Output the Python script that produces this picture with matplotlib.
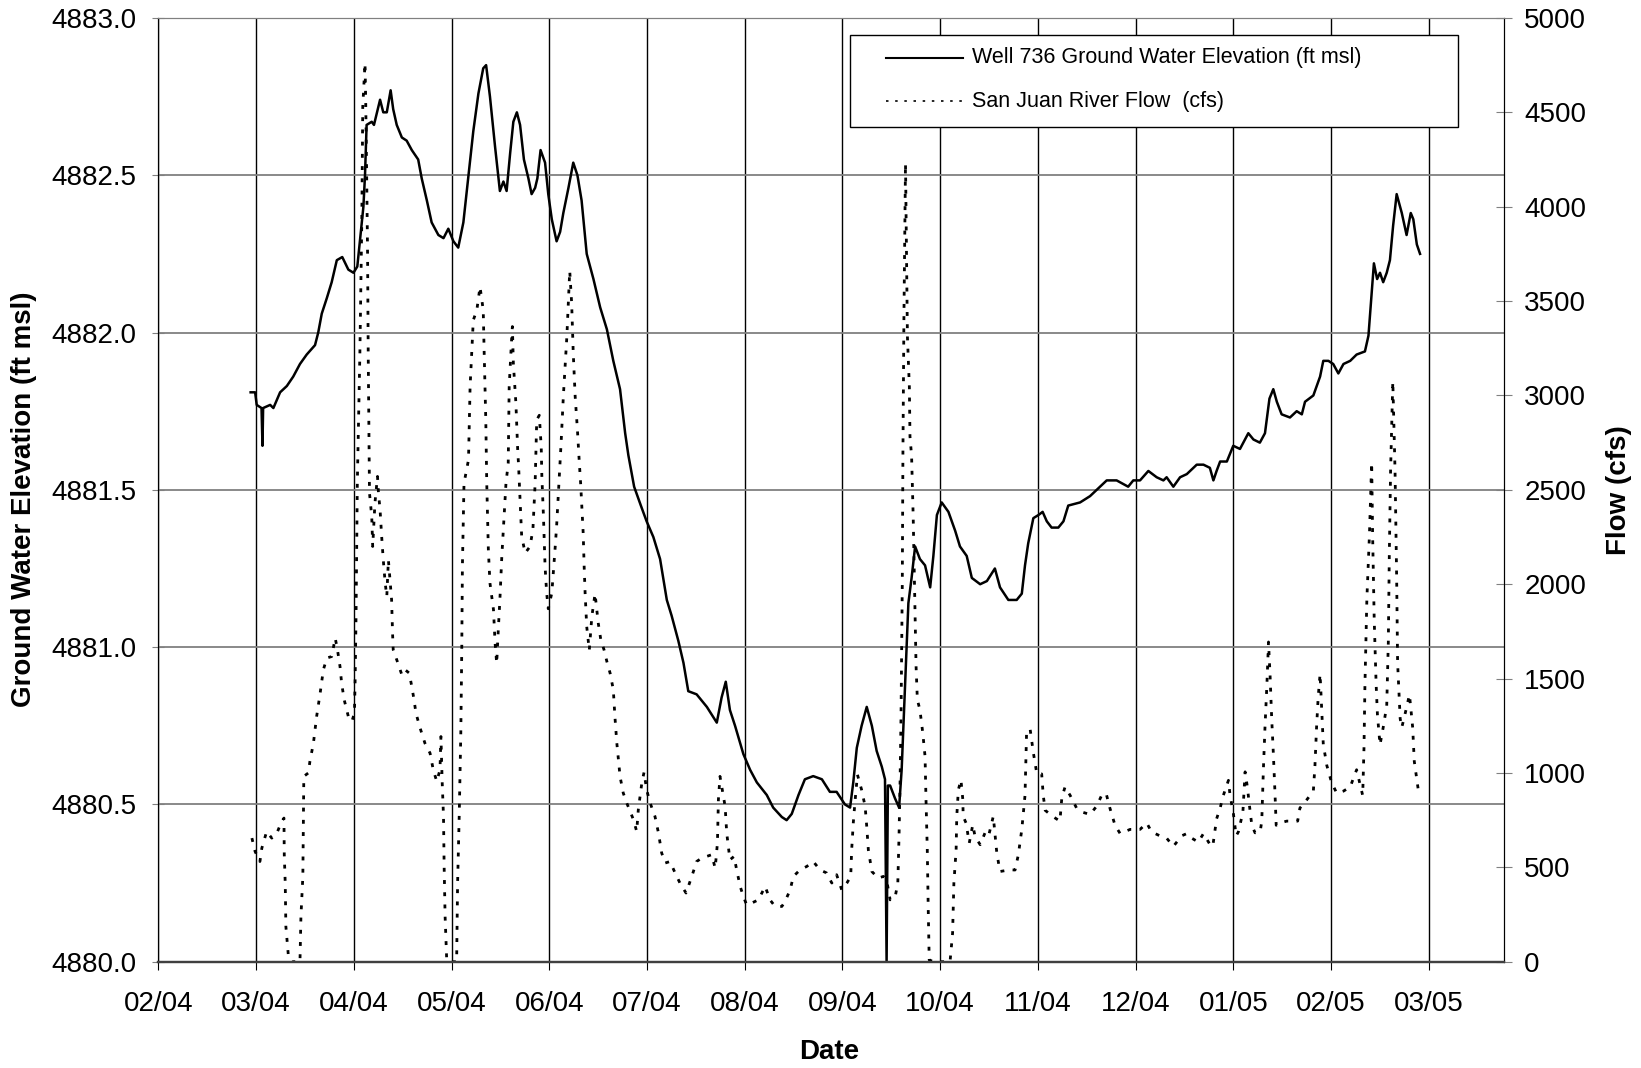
import numpy as np
import matplotlib
matplotlib.use('Agg')
import matplotlib.pyplot as plt
import matplotlib.dates as mdates
from matplotlib.ticker import FormatStrFormatter
from matplotlib.patches import Rectangle
from matplotlib.lines import Line2D

# x values are days after 2004-02-01
start = np.datetime64('2004-02-01')
tick_step = 30.5   # Excel-style date gridline spacing (days)
n_ticks = 14
x_end = 420.1

well_days = [28.8, 30.2, 30.7, 32.2, 32.5, 32.7, 34.9, 35.9, 38.0, 40.1,
             42.1, 44.2, 46.3, 48.9, 49.9, 51.0, 52.6, 54.1, 55.7, 57.4,
             59.3, 60.9, 62.1, 63.0, 64.0, 64.5, 65.0, 66.6, 67.3, 69.2,
             70.2, 71.3, 72.5, 73.3, 74.4, 76.0, 77.5, 79.1, 81.1, 82.2,
             83.8, 85.3, 87.4, 89.0, 90.5, 92.1, 93.6, 95.2, 96.8, 98.3,
             99.9, 101.4, 102.3, 103.5, 105.1, 106.6, 107.7, 108.7, 109.8, 110.8,
             111.9, 112.9, 114.1, 115.5, 116.5, 117.6, 118.3, 119.3, 120.7, 121.7,
             122.8, 124.3, 125.4, 126.4, 128.0, 129.5, 130.8, 132.1, 133.7, 135.8,
             137.9, 140.0, 142.0, 144.1, 145.7, 146.7, 148.5, 150.6, 152.4, 154.5,
             156.6, 158.7, 160.2, 162.3, 163.9, 165.4, 168.0, 171.2, 174.3, 175.8,
             177.1, 178.4, 180.0, 182.6, 184.7, 186.8, 189.9, 191.9, 194.6, 196.1,
             197.7, 199.8, 201.8, 204.4, 207.1, 209.6, 211.7, 214.3, 215.9, 216.9,
             218.0, 219.5, 221.1, 222.7, 224.2, 225.8, 226.8, 227.3, 227.7, 228.4,
             229.9, 231.2, 232.0, 233.1, 234.1, 235.1, 236.2, 237.7, 239.3, 240.9,
             241.9, 243.0, 244.5, 246.6, 248.7, 250.2, 252.3, 253.9, 256.5, 258.6,
             261.1, 262.7, 265.3, 267.9, 269.5, 270.5, 271.5, 273.1, 274.7, 276.0,
             277.3, 278.8, 280.9, 282.5, 284.0, 287.7, 290.8, 292.9, 296.0, 299.1,
             302.7, 304.3, 306.4, 309.0, 311.6, 313.7, 314.7, 316.8, 318.9, 321.0,
             324.1, 326.2, 328.2, 329.3, 330.3, 331.4, 333.5, 335.5, 337.6, 340.2,
             341.8, 343.8, 345.4, 346.8, 348.0, 349.1, 350.6, 353.2, 355.3, 356.9,
             357.9, 360.5, 362.6, 363.6, 365.2, 366.7, 368.3, 369.9, 372.0, 374.0,
             376.6, 377.7, 378.5, 379.4, 380.4, 381.3, 382.3, 383.4, 384.4, 385.4,
             386.5, 388.1, 389.6, 390.9, 391.7, 392.8, 393.8]
well_elev = [4881.81, 4881.81, 4881.77, 4881.76, 4881.64, 4881.76, 4881.77, 4881.76, 4881.81, 4881.83,
             4881.86, 4881.90, 4881.93, 4881.96, 4882.00, 4882.06, 4882.11, 4882.16, 4882.23, 4882.24,
             4882.20, 4882.19, 4882.21, 4882.30, 4882.40, 4882.50, 4882.66, 4882.67, 4882.66, 4882.74,
             4882.70, 4882.70, 4882.77, 4882.71, 4882.66, 4882.62, 4882.61, 4882.58, 4882.55, 4882.49,
             4882.42, 4882.35, 4882.31, 4882.30, 4882.33, 4882.29, 4882.27, 4882.35, 4882.50, 4882.64,
             4882.76, 4882.84, 4882.85, 4882.75, 4882.59, 4882.45, 4882.48, 4882.45, 4882.57, 4882.67,
             4882.70, 4882.66, 4882.55, 4882.49, 4882.44, 4882.46, 4882.49, 4882.58, 4882.54, 4882.44,
             4882.36, 4882.29, 4882.32, 4882.38, 4882.46, 4882.54, 4882.50, 4882.42, 4882.25, 4882.17,
             4882.08, 4882.01, 4881.91, 4881.82, 4881.68, 4881.61, 4881.51, 4881.45, 4881.40, 4881.35,
             4881.28, 4881.15, 4881.10, 4881.02, 4880.95, 4880.86, 4880.85, 4880.81, 4880.76, 4880.84,
             4880.89, 4880.80, 4880.75, 4880.66, 4880.61, 4880.57, 4880.53, 4880.49, 4880.46, 4880.45,
             4880.47, 4880.53, 4880.58, 4880.59, 4880.58, 4880.54, 4880.54, 4880.50, 4880.49, 4880.57,
             4880.68, 4880.75, 4880.81, 4880.75, 4880.67, 4880.62, 4880.58, 4880.00, 4880.56, 4880.56,
             4880.52, 4880.49, 4880.61, 4880.89, 4881.14, 4881.22, 4881.32, 4881.28, 4881.26, 4881.19,
             4881.29, 4881.42, 4881.46, 4881.43, 4881.37, 4881.32, 4881.29, 4881.22, 4881.20, 4881.21,
             4881.25, 4881.19, 4881.15, 4881.15, 4881.17, 4881.26, 4881.33, 4881.41, 4881.42, 4881.43,
             4881.40, 4881.38, 4881.38, 4881.40, 4881.45, 4881.46, 4881.48, 4881.50, 4881.53, 4881.53,
             4881.51, 4881.53, 4881.53, 4881.56, 4881.54, 4881.53, 4881.54, 4881.51, 4881.54, 4881.55,
             4881.58, 4881.58, 4881.57, 4881.53, 4881.56, 4881.59, 4881.59, 4881.64, 4881.63, 4881.68,
             4881.66, 4881.65, 4881.68, 4881.79, 4881.82, 4881.78, 4881.74, 4881.73, 4881.75, 4881.74,
             4881.78, 4881.80, 4881.86, 4881.91, 4881.91, 4881.90, 4881.87, 4881.90, 4881.91, 4881.93,
             4881.94, 4881.99, 4882.10, 4882.22, 4882.17, 4882.19, 4882.16, 4882.19, 4882.23, 4882.34,
             4882.44, 4882.38, 4882.31, 4882.38, 4882.36, 4882.28, 4882.25]

flow_days = [29.2, 30.2, 31.7, 32.3, 33.8, 35.4, 37.0, 38.5, 39.2, 39.3,
             39.6, 39.8, 40.6, 41.6, 44.2, 44.5, 45.1, 45.3, 45.4, 46.8,
             47.3, 48.4, 49.4, 50.5, 51.5, 52.6, 54.1, 55.2, 55.9, 56.7,
             57.2, 58.0, 59.3, 60.4, 61.2, 61.4, 61.7, 61.9, 62.1, 62.9,
             63.5, 63.8, 64.5, 64.7, 65.0, 65.3, 65.5, 65.8, 65.9, 66.6,
             66.9, 67.6, 68.4, 68.7, 69.2, 69.7, 70.2, 70.8, 71.3, 71.8,
             72.3, 72.8, 73.1, 73.3, 74.4, 76.0, 77.0, 78.3, 79.1, 79.8,
             80.4, 81.7, 83.2, 84.8, 85.8, 86.9, 87.9, 88.2, 88.4, 88.6,
             89.0, 89.2, 89.5, 90.0, 91.0, 93.1, 93.4, 93.9, 94.4, 94.7,
             94.9, 95.4, 96.8, 97.3, 98.3, 99.4, 100.4, 101.4, 101.7, 102.2,
             102.5, 103.0, 103.5, 104.6, 105.1, 105.6, 106.1, 106.6, 107.2, 107.9,
             108.5, 109.2, 109.5, 110.3, 110.5, 110.8, 111.6, 112.2, 112.4, 112.9,
             113.4, 114.5, 116.0, 116.9, 117.6, 118.1, 118.9, 119.5, 119.7, 120.2,
             120.7, 121.2, 121.7, 122.8, 123.8, 124.3, 125.4, 125.7, 126.4, 127.5,
             128.4, 129.0, 129.5, 130.1, 130.8, 131.4, 131.8, 132.6, 132.9, 133.2,
             133.7, 134.5, 135.3, 136.3, 137.3, 138.1, 139.1, 140.0, 141.0, 142.0,
             142.5, 143.1, 144.1, 145.1, 146.2, 148.3, 149.3, 149.8, 150.9, 151.6,
             152.4, 153.5, 155.0, 156.1, 157.1, 158.2, 159.7, 161.3, 162.8, 164.7,
             166.5, 168.0, 169.6, 171.2, 172.7, 173.8, 174.5, 174.8, 175.3, 176.2,
             176.9, 177.4, 178.4, 179.7, 180.5, 181.6, 182.6, 183.6, 185.2, 187.3,
             189.4, 190.9, 192.5, 194.6, 195.6, 197.2, 198.2, 200.3, 202.4, 204.4,
             206.5, 208.6, 210.2, 211.7, 213.3, 214.9, 216.1, 216.4, 216.9, 217.4,
             218.2, 219.5, 220.6, 221.1, 221.6, 222.7, 224.7, 226.3, 227.3, 228.4,
             229.9, 230.8, 231.2, 231.5, 231.8, 232.0, 232.2, 232.4, 232.7, 233.0,
             233.2, 233.4, 233.8, 234.4, 234.6, 235.1, 235.6, 236.2, 236.5, 236.9,
             237.7, 238.6, 239.3, 239.6, 240.0, 240.3, 240.6, 241.9, 247.1, 247.9,
             248.3, 249.0, 249.2, 249.7, 250.5, 251.1, 251.2, 252.1, 253.1, 254.2,
             254.9, 256.5, 258.0, 259.1, 260.6, 261.7, 262.7, 265.8, 267.4, 268.4,
             269.5, 270.5, 270.7, 271.0, 272.1, 273.1, 274.2, 275.7, 276.2, 276.8,
             279.3, 281.4, 282.0, 283.0, 284.6, 286.6, 288.7, 290.8, 292.9, 294.4,
             295.8, 297.0, 298.6, 300.2, 303.3, 306.4, 308.5, 310.0, 312.6, 314.7,
             316.8, 319.4, 321.0, 322.5, 324.6, 326.2, 328.2, 329.1, 330.3, 331.4,
             332.4, 334.0, 334.5, 335.5, 336.4, 337.1, 338.5, 339.2, 339.9, 340.8,
             341.3, 342.3, 343.9, 344.4, 344.9, 345.4, 346.0, 346.5, 347.0, 347.5,
             348.0, 348.5, 348.9, 350.1, 352.2, 354.2, 355.6, 356.3, 358.4, 360.5,
             361.0, 361.5, 362.0, 362.6, 363.1, 363.6, 364.7, 366.2, 367.8, 369.9,
             372.0, 374.0, 375.1, 375.9, 376.3, 376.6, 377.2, 378.0, 378.7, 379.0,
             379.5, 380.1, 380.5, 381.3, 382.3, 383.4, 383.9, 384.2, 384.6, 385.3,
             386.0, 386.5, 386.8, 387.6, 388.1, 389.1, 390.5, 391.5, 392.0, 393.3]
flow_cfs = [655, 584, 531, 602, 690, 655, 682, 743, 761, 567,
            417, 187, 28, 0, 0, 240, 452, 770, 982, 1000,
            1061, 1158, 1299, 1423, 1547, 1609, 1617, 1715, 1653, 1564,
            1476, 1388, 1299, 1273, 1317, 1476, 1829, 2182, 2535, 3223,
            3929, 4530, 4760, 4583, 4195, 3754, 3223, 2693, 2483, 2359,
            2200, 2430, 2571, 2483, 2394, 2253, 2129, 2006, 1935, 2129,
            2023, 1918, 1741, 1653, 1600, 1520, 1547, 1529, 1458, 1388,
            1317, 1238, 1158, 1105, 1017, 955, 1017, 1193, 1070, 947,
            770, 505, 240, 10, 0, 0, 417, 770, 1211, 1653,
            2094, 2535, 2659, 3047, 3399, 3452, 3576, 3452, 3223, 2870,
            2535, 2182, 2006, 1865, 1688, 1580, 1759, 1918, 2147, 2359,
            2535, 2641, 3047, 3312, 3365, 3171, 2958, 2693, 2641, 2447,
            2253, 2165, 2200, 2288, 2535, 2870, 2895, 2728, 2571, 2359,
            2094, 1953, 1870, 1953, 2182, 2306, 2659, 2747, 2994, 3312,
            3660, 3489, 3223, 2994, 2818, 2641, 2535, 2271, 2094, 1953,
            1776, 1650, 1829, 1950, 1794, 1706, 1653, 1590, 1529, 1441,
            1299, 1158, 982, 894, 841, 752, 690, 805, 947, 1004,
            911, 841, 770, 682, 576, 523, 531, 470, 417, 364,
            452, 531, 549, 558, 567, 496, 629, 858, 982, 894,
            823, 682, 540, 558, 487, 399, 346, 302, 311, 328,
            399, 328, 293, 293, 319, 381, 452, 487, 505, 531,
            487, 470, 417, 461, 381, 417, 452, 593, 735, 841,
            991, 911, 823, 717, 593, 478, 443, 452, 434, 328,
            337, 417, 682, 947, 1299, 1653, 2006, 2700, 3400, 3929,
            4230, 3929, 3312, 3047, 2782, 2680, 2359, 1829, 1564, 1388,
            1335, 1211, 1088, 858, 593, 275, 10, 0, 0, 152,
            417, 593, 770, 911, 964, 858, 770, 735, 629, 726,
            664, 620, 682, 664, 770, 576, 478, 487, 486, 565,
            701, 881, 1017, 1220, 1232, 1108, 995, 995, 881, 802,
            768, 745, 870, 926, 881, 814, 791, 780, 825, 881,
            893, 814, 723, 679, 701, 701, 735, 688, 667, 655,
            611, 667, 679, 655, 634, 679, 622, 611, 757, 814,
            881, 961, 881, 791, 667, 688, 791, 1006, 926, 791,
            723, 683, 688, 745, 1017, 1241, 1467, 1694, 1514, 1287,
            1108, 904, 723, 735, 745, 745, 745, 814, 857, 904,
            1040, 1241, 1400, 1525, 1333, 1152, 1040, 949, 893, 904,
            926, 1017, 937, 881, 1130, 1467, 1921, 2260, 2645, 2260,
            1808, 1467, 1309, 1149, 1241, 1356, 1694, 2146, 2598, 3074,
            2598, 2034, 1582, 1288, 1241, 1311, 1415, 1241, 1062, 904]

well_label = 'Well 736 Ground Water Elevation (ft msl)'
flow_label = 'San Juan River Flow  (cfs)'

plt.rcParams['font.family'] = ['Liberation Sans', 'DejaVu Sans']
dot = (0, (1.4, 3))

fig = plt.figure(figsize=(16.41, 10.68), dpi=100)
ax = fig.add_axes([0.0965, 0.0995, 0.8202, 0.8837])
ax2 = ax.twinx()

t0 = mdates.date2num(start)
ax.plot(t0 + np.array(well_days), well_elev, color='black', lw=1.8)
ax2.plot(t0 + np.array(flow_days), flow_cfs, color='black', lw=2.0, linestyle=dot)

ax.set_xlim(t0, t0 + x_end)
ax.set_ylim(4880, 4883)
ax2.set_ylim(0, 5000)
ax.set_xticks(t0 + tick_step * np.arange(n_ticks))
ax.xaxis.set_major_formatter(mdates.DateFormatter('%m/%y'))
ax.set_yticks(np.arange(4880, 4883.01, 0.5))
ax.yaxis.set_major_formatter(FormatStrFormatter('%.1f'))
ax2.set_yticks(np.arange(0, 5001, 500))

ax.grid(axis='x', color='black', lw=1.0)
ax.grid(axis='y', color='#808080', lw=1.3)

ax.tick_params(axis='x', direction='out', length=6, color='black', labelsize=20, pad=15)
ax.tick_params(axis='y', direction='inout', length=9, color='#808080', labelsize=20, pad=11)
ax2.tick_params(axis='y', direction='inout', length=11.5, color='#808080', labelsize=20, pad=8.6)

for a in (ax, ax2):
    a.spines['left'].set_color('black')
    a.spines['right'].set_color('black')
    a.spines['top'].set_color('#808080')
    a.spines['bottom'].set_color('#404040')
    a.spines['bottom'].set_linewidth(1.6)

ax.set_xlabel('Date', fontsize=20, fontweight='bold', va='top')
ax.xaxis.set_label_coords(0.4983, -0.0819)
ax.set_ylabel('Ground Water Elevation (ft msl)', fontsize=20, fontweight='bold')
ax.yaxis.set_label_coords(-0.0905, 0.49)
ax2.set_ylabel('Flow (cfs)', fontsize=20, fontweight='bold', rotation=90)
ax2.yaxis.set_label_coords(1.0756, 0.5)

# legend box drawn by hand to match the Excel layout
tr = ax2.transAxes
ax2.add_patch(Rectangle((0.5139, 0.8845), 0.4517, 0.0975, transform=tr,
                        facecolor='white', edgecolor='black', lw=1.0, zorder=5))
ax2.add_line(Line2D([0.5404, 0.5978], [0.9579, 0.9579], transform=tr,
                    color='black', lw=1.5, zorder=6))
ax2.add_line(Line2D([0.5404, 0.5978], [0.9121, 0.9121], transform=tr,
                    color='black', lw=1.2, linestyle=(0, (1.5, 4)), zorder=6))
ax2.text(0.6043, 0.952, well_label, transform=tr, fontsize=15.5, va='baseline', zorder=6)
ax2.text(0.6043, 0.9054, flow_label, transform=tr, fontsize=15.5, va='baseline', zorder=6)

fig.savefig('out.png', dpi=100)
